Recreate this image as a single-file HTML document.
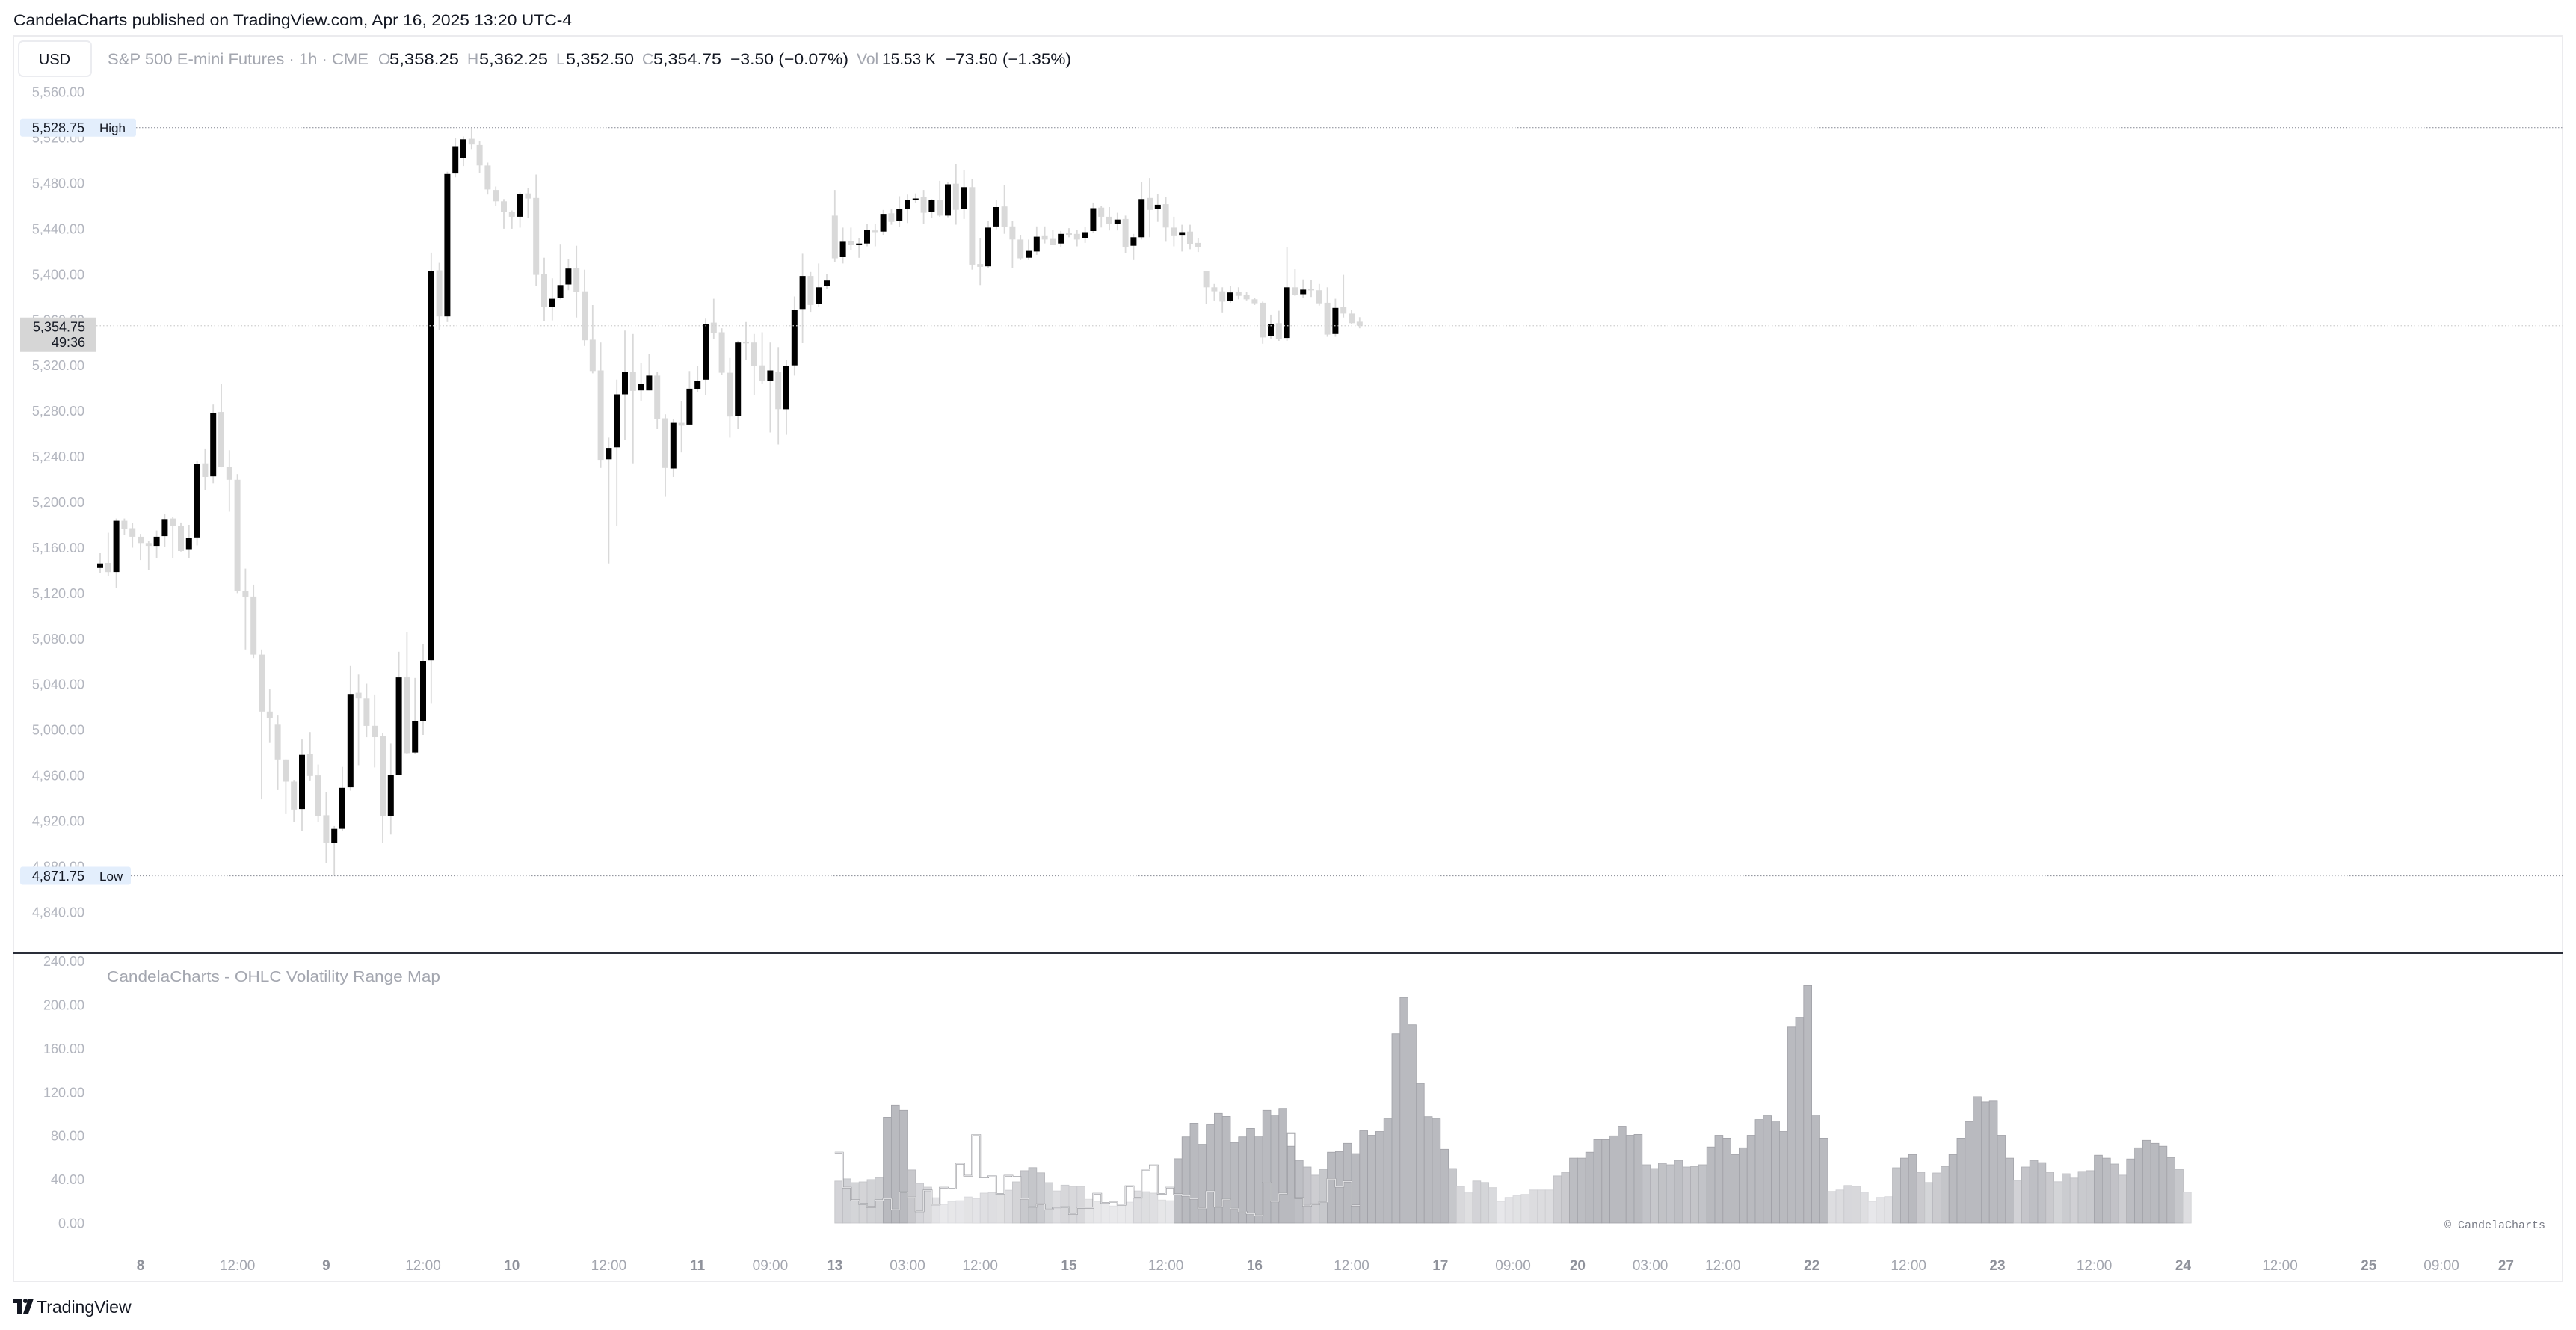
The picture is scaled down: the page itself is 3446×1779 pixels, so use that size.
<!DOCTYPE html>
<html><head><meta charset="utf-8"><title>S&P 500 E-mini Futures chart</title>
<style>
html,body{margin:0;padding:0;background:#fff;}
svg{display:block;font-family:"Liberation Sans",Arial,sans-serif;}
</style></head>
<body>
<svg id="chart" xmlns="http://www.w3.org/2000/svg" width="3446" height="1779" viewBox="0 0 3446 1779">
<rect x="0" y="0" width="3446" height="1779" fill="#ffffff"/>
<text x="18" y="34" font-size="21" fill="#131722" textLength="747" lengthAdjust="spacingAndGlyphs">CandelaCharts published on TradingView.com, Apr 16, 2025 13:20 UTC-4</text>
<rect x="18" y="48" width="3410" height="1666" fill="none" stroke="#ebebee" stroke-width="2"/>
<g>
<rect x="25" y="55" width="97" height="47" rx="6" fill="#fff" stroke="#ebecf0" stroke-width="2"/>
<text x="73" y="86" font-size="20" text-anchor="middle" fill="#131722">USD</text>
</g>
<g id="legend" font-size="21">
<text x="144" y="86" fill="#a3a6af" textLength="349" lengthAdjust="spacingAndGlyphs">S&amp;P 500 E-mini Futures · 1h · CME</text>
<text x="506" y="86" fill="#a3a6af">O</text>
<text x="521" y="86" fill="#131722" textLength="93" lengthAdjust="spacingAndGlyphs">5,358.25</text>
<text x="625" y="86" fill="#a3a6af">H</text>
<text x="641" y="86" fill="#131722" textLength="92" lengthAdjust="spacingAndGlyphs">5,362.25</text>
<text x="744" y="86" fill="#a3a6af">L</text>
<text x="757" y="86" fill="#131722" textLength="91" lengthAdjust="spacingAndGlyphs">5,352.50</text>
<text x="859" y="86" fill="#a3a6af">C</text>
<text x="874" y="86" fill="#131722" textLength="91" lengthAdjust="spacingAndGlyphs">5,354.75</text>
<text x="977" y="86" fill="#131722" textLength="158" lengthAdjust="spacingAndGlyphs">−3.50 (−0.07%)</text>
<text x="1146" y="86" fill="#a3a6af">Vol</text>
<text x="1180" y="86" fill="#131722" textLength="72" lengthAdjust="spacingAndGlyphs">15.53 K</text>
<text x="1265" y="86" fill="#131722" textLength="168" lengthAdjust="spacingAndGlyphs">−73.50 (−1.35%)</text>
</g>
<g id="priceAxis"></g>
<g id="candles"></g>
<g id="priceMarkers"></g>
<rect x="18" y="1273" width="3410" height="3" fill="#2a2e39"/>
<g id="volAxis"></g>
<text x="143" y="1313" font-size="20" fill="#a3a6af" textLength="446" lengthAdjust="spacingAndGlyphs">CandelaCharts - OHLC Volatility Range Map</text>
<g id="volBars"></g>
<g id="rangeLine"></g>
<text x="3405" y="1643" font-size="15" text-anchor="end" fill="#787b86" font-family="Liberation Mono, monospace">© CandelaCharts</text>
<g id="timeAxis"></g>
<g>
<rect x="18" y="1737" width="11" height="6" fill="#131722"/>
<rect x="23" y="1737" width="6" height="20" fill="#131722"/>
<circle cx="34" cy="1740" r="3" fill="#131722"/>
<polygon points="38,1737 45,1737 38,1757 31,1757" fill="#131722"/>
<text x="49" y="1756" font-size="23" fill="#131722">TradingView</text>
</g>
</svg>
<script>
const opens=[5142,5146.5,5138.5,5183.5,5177,5169.5,5164,5161.5,5170,5185.5,5179,5158,5169,5234,5222.5,5279,5230.5,5219.5,5122,5117,5066,5016,5004.5,4974,4954.5,4930.5,4979,4960,4925,4901,4913,4949.5,5032.5,5027.5,5003.5,4994.5,4924.5,4960.5,5046,4980,5008,5061,5403.5,5363,5488.5,5502,5519,5513.5,5495.5,5474,5464,5454.5,5450.5,5471,5467,5400.5,5371,5379,5391,5405.5,5385,5342.5,5315.5,5237.5,5248,5294.5,5314,5298,5298,5311,5273.5,5229.5,5269.5,5268,5299.5,5307.5,5357.5,5349,5313.5,5275.5,5340.5,5340,5320,5306.5,5314,5281.5,5320,5369.5,5398.5,5374,5389.5,5451.5,5415,5429,5425.5,5427,5438.5,5437.5,5453.5,5446.5,5457,5466,5467.5,5454.5,5465.5,5451.5,5479.5,5457,5476.5,5409,5407,5442,5459.5,5442,5430.5,5414.5,5420,5433.5,5431,5427,5436.5,5435.5,5431.5,5438,5458.5,5450.5,5444,5448.5,5425,5432.5,5467,5457.5,5461.5,5441,5434,5437.5,5427.5,5402.5,5388.5,5385,5376.5,5384.5,5382,5378,5375,5346,5357,5344,5388.5,5382.5,5387,5386,5375,5347.5,5371,5365.5,5358.25];
const highs=[5155,5173,5185.5,5185.5,5181.5,5172,5166,5175,5189.5,5187,5182,5180,5236.5,5247,5285.5,5304,5245.5,5224.5,5141.5,5127.5,5070.5,5035.5,5012.5,4974,4956,4991.5,4998,4969.5,4945.5,4915.5,4967.5,5056,5048.5,5040.5,5031,4997,4988,5068.5,5085.5,5045.5,5075,5419,5410,5490,5520,5521,5528.75,5517,5498,5477,5466,5456,5472,5476,5487.5,5414.5,5396.5,5426,5413.5,5425,5404,5373,5340,5256.5,5307.5,5350.5,5347.5,5322,5330,5314.5,5277,5273,5288.5,5315,5319.5,5361,5378.5,5352.5,5326.5,5341.5,5358,5347.5,5349,5340,5336,5325,5380.5,5418,5402,5409.5,5400.5,5474,5441,5441,5432,5444,5444.5,5456.5,5457,5468.5,5470,5471,5474,5466,5482,5481,5496.5,5491.5,5483.5,5431.5,5447,5465,5478,5447,5434.5,5430.5,5442,5442,5439,5438,5440.5,5439,5441.5,5463,5460,5459,5454,5451.5,5435.5,5481,5484.5,5470.5,5468,5450.5,5443.5,5443.5,5431.5,5402.5,5391.5,5388.5,5389.5,5388.5,5384.5,5379,5376,5364.5,5368,5424,5404.5,5395.5,5395,5391.5,5388.5,5378.5,5399.5,5368.5,5362.25];
const lows=[5137.5,5135,5124.5,5171,5160,5149,5140.5,5151,5160.5,5151,5156.5,5151,5162,5210.5,5216.5,5230.5,5191.5,5120,5070.5,5063,4939,4988.5,4947,4926,4919,4911,4955.5,4919,4883,4871.75,4911.5,4946.5,4969,4993.5,4967,4900.5,4908,4960.5,4978.5,4978.5,4995.5,5023.5,5351,5358,5485,5495,5510,5489,5470,5460,5440,5440,5441,5449.5,5389.5,5359,5359.5,5378,5386,5362,5337,5313,5230,5146,5179,5254.5,5234,5288.5,5298,5264,5204.5,5222,5243.5,5268,5296.5,5293.5,5343,5311.5,5256.5,5264,5325,5294,5303.5,5261,5250.5,5259,5311,5339.5,5367,5371.5,5387,5410.5,5409.5,5421,5414.5,5424.5,5424.5,5434.5,5443.5,5441.5,5445,5463,5444,5449.5,5450.5,5450,5443.5,5448.5,5404,5390.5,5405.5,5439.5,5435.5,5405.5,5412.5,5412.5,5417,5427,5425.5,5424,5432.5,5424.5,5427.5,5436.5,5441,5438.5,5438.5,5418.5,5412.5,5430.5,5432.5,5446,5428.5,5424.5,5420,5422,5419.5,5374,5377,5366.5,5375,5378,5377,5373,5339,5343.5,5341.5,5341.5,5381,5379,5380,5372.5,5345,5345,5362,5356.5,5352.5];
const closes=[5146,5138.5,5183.5,5176.5,5169.5,5164,5161.5,5169.5,5185,5179,5157,5168.5,5233.5,5222,5278,5231,5219.5,5122,5116.5,5066,5016,5010,4974,4954.5,4930,4978,4959.5,4924.5,4900.5,4913,4949,5031.5,5027.5,5003.5,4993.5,4924.5,4960.5,5046,4979.5,5007.5,5060.5,5402.5,5363,5488,5512.5,5518.5,5514,5495.5,5474.5,5464,5455,5450.5,5470.5,5466.5,5399.5,5371.5,5378.5,5390.5,5405,5384.5,5342,5315,5237,5247.5,5294.5,5314,5297.5,5303.5,5311,5273,5230,5269.5,5267,5299.5,5306.5,5356,5348.5,5313.5,5275,5340,5340,5319.5,5306,5315.5,5281.5,5319.5,5369,5398.5,5373,5388.5,5394.5,5414,5428.5,5425.5,5427,5439,5437,5453,5446,5457,5465.5,5466.5,5454,5465,5451.5,5479,5456.5,5476.5,5408.5,5406.5,5441,5459,5441.5,5430.5,5414,5420.5,5433,5430.5,5425.5,5435.5,5434.5,5430.5,5437,5458,5450.5,5444,5448,5423.5,5432.5,5466,5456.5,5461,5441,5433.5,5437,5426.5,5424,5388.5,5385,5376,5384,5381,5378,5374.5,5344.5,5356.5,5343,5388.5,5381.5,5386.5,5386.25,5374.5,5347,5370.5,5365.5,5357,5354.75];
const priceTicks=[5560,5520,5480,5440,5400,5360,5320,5280,5240,5200,5160,5120,5080,5040,5000,4960,4920,4880,4840];
const rangeValues=[38.4,40.5,37,37.7,39.8,41.8,97,108,103.2,48.7,36.3,32.9,23.2,17,19.8,20.5,23.9,22.5,27.4,28,26.7,30.1,37.7,48,50.8,46,37,29.4,34.7,33.6,33.6,21.8,19.8,17.7,15.6,16.3,19.1,29.4,28.7,27.4,21.1,20.5,59,79,91.5,72.2,90.1,100.5,97.7,73.6,79,86.7,79.8,103.2,99,105,70.4,57.5,51.4,43.9,49.3,64.9,65.6,73.1,63.6,84.6,80.5,83.9,95.5,173.5,206.8,181.7,128,97.5,95.5,67.6,50,33.7,27.6,38.5,37.1,32.4,19.5,23.5,24.9,26.2,30.3,30.3,30.3,43.2,46.6,59.5,59.5,64.9,76.5,76.5,79.9,88.7,80.5,81.2,53.4,50,54.8,53.4,57.5,51.4,52,53.4,69.7,80.5,77.8,62.9,69,80.5,94.8,98.2,93.4,83.9,179.6,188.5,217.6,98.9,77.8,29,30.3,34.4,33.7,28.3,19.5,23.5,24.2,50.7,59.5,62.9,46.6,37.1,45.9,52,62.9,77.8,92.8,115.8,111,111.8,80.5,59.5,39.1,51.4,57.5,55.4,46.6,37.8,45.2,41.2,47.3,48,62.2,59.5,54.1,43.9,58.8,69,75.8,73.1,70.4,60.2,49.3,28.3];
const currentRange=[64.6,32.4,20.9,17.5,14.7,20.9,22.1,12.4,28.3,23.4,10.8,29.9,17,32.4,31.5,54.3,43.4,80.7,41.8,42.8,26.7,43.4,42.5,22.3,14.9,17.2,12.4,14.3,14.5,8.3,14,14,26.9,18.4,19.3,16.8,33.8,23.2,49,52.9,26.7,32.4,26.4,25.1,22.3,13.6,29,14.9,21.4,13.1,10.3,8.7,6.9,37,19.8,26.9,82.4,22.9,15.8,17.2,19.2,40.3,33.3,38,16.1];
const volTicks=[240,200,160,120,80,40,0];
const timeLabels=["8","12:00","9","12:00","10","12:00","11","09:00","13","03:00","12:00","15","12:00","16","12:00","17","09:00","20","03:00","12:00","22","12:00","23","12:00","24","12:00","25","09:00","27"];
const timeIndex=[5,17,28,40,51,63,74,83,91,100,109,120,132,143,155,166,175,183,192,201,212,224,235,247,258,270,281,290,298];
const rangeStart=91;
const highMark=5528.75, lowMark=4871.75, lastPrice=5354.75;

const NS="http://www.w3.org/2000/svg";
function xS(i){return 134+i*10.8;}
function yP(p){return 123.1+(5560-p)*1.5233;}
function yV(v){return 1636-v*1.46;}
function mk(tag,attrs,parent){const e=document.createElementNS(NS,tag);for(const k in attrs)e.setAttribute(k,attrs[k]);parent.appendChild(e);return e;}
function fmt(p){return p.toLocaleString("en-US",{minimumFractionDigits:2,maximumFractionDigits:2});}

const pa=document.getElementById("priceAxis");
priceTicks.forEach(t=>{
  const e=mk("text",{x:113,y:(yP(t)+6.5).toFixed(1),"font-size":18,"text-anchor":"end",fill:"#b2b5be"},pa);
  
  
  e.textContent=fmt(t);
});

const cg=document.getElementById("candles");
for(let i=0;i<opens.length;i++){
  const x=xS(i),o=opens[i],c=closes[i],up=c>=o;
  const w=mk("rect",{x:(x-0.9).toFixed(1),y:yP(highs[i]).toFixed(1),width:1.8,height:Math.max(1,yP(lows[i])-yP(highs[i])).toFixed(1),fill:"#d9d9d9"},cg);
  
  
  const top=yP(Math.max(o,c)),bot=yP(Math.min(o,c));
  const b=mk("rect",{x:(x-4).toFixed(1),y:top.toFixed(1),width:8,height:Math.max(1.8,bot-top).toFixed(1),fill:up?"#000000":"#d9d9d9"},cg);
  
  
}

const pm=document.getElementById("priceMarkers");
function marker(p,label,name,w){
  const y=yP(p);
  const l=mk("line",{x1:27+w,y1:y,x2:3428,y2:y,stroke:"#9598a1","stroke-width":1.2,"stroke-dasharray":"1.5 2.5"},pm);
  
  
  const r=mk("rect",{x:27,y:y-12,width:w,height:24,rx:3,fill:"#e3eefc"},pm);
  
  
  const t=mk("text",{x:113,y:y+6.5,"font-size":18,"text-anchor":"end",fill:"#131722"},pm);
  
  
  t.textContent=fmt(p);
  const t2=mk("text",{x:133,y:y+6.5,"font-size":17,fill:"#131722"},pm);
  
  
  t2.textContent=label;
}
marker(highMark,"High","high-marker",155);
marker(lowMark,"Low","low-marker",148);
{
  const y=yP(lastPrice);
  const l=mk("line",{x1:129,y1:y,x2:3428,y2:y,stroke:"#cfcfcf","stroke-width":1.2,"stroke-dasharray":"1.5 3"},pm);
  
  
  const r=mk("rect",{x:27,y:y-11,width:102,height:46,fill:"#d6d6d6"},pm);
  
  
  const t=mk("text",{x:114,y:y+7.5,"font-size":18,"text-anchor":"end",fill:"#131722"},pm);
  
  
  t.textContent=fmt(lastPrice);
  const t2=mk("text",{x:114,y:y+28,"font-size":18,"text-anchor":"end",fill:"#131722"},pm);
  
  
  t2.textContent="49:36";
}

const va=document.getElementById("volAxis");
volTicks.forEach(t=>{
  const e=mk("text",{x:113,y:(yV(t)+6.5).toFixed(1),"font-size":18,"text-anchor":"end",fill:"#b2b5be"},va);
  
  
  e.textContent=t.toFixed(2);
});

function shade(v){
  const t=Math.max(0,Math.min(1,(v-18)/44));
  const a=[233,233,235],b=[185,186,191];
  return "rgb("+a.map((c,k)=>Math.round(c+(b[k]-c)*t)).join(",")+")";
}
function edge(v){
  const t=Math.max(0,Math.min(1,(v-18)/44));
  const a=[222,222,225],b=[160,161,167];
  return "rgb("+a.map((c,k)=>Math.round(c+(b[k]-c)*t)).join(",")+")";
}
const vb=document.getElementById("volBars");
rangeValues.forEach((v,k)=>{
  const x=xS(rangeStart+k);
  const r=mk("rect",{x:x.toFixed(1),y:yV(v).toFixed(1),width:10.8,height:(v*1.46).toFixed(1),fill:shade(v),stroke:edge(v),"stroke-width":0.8},vb);
  
  
});

const rl=document.getElementById("rangeLine");
let d="";
currentRange.forEach((v,k)=>{
  const x0=xS(rangeStart+k),x1=x0+10.8,y=yV(v).toFixed(1);
  d+=(k===0?"M":"L")+x0.toFixed(1)+" "+y+" L"+x1.toFixed(1)+" "+y+" ";
});
const p1=mk("path",{d:d,fill:"none",stroke:"#96979c","stroke-width":2},rl);


const p2=mk("path",{d:d,fill:"none",stroke:"#f2f2f3","stroke-width":0.8},rl);



const ta=document.getElementById("timeAxis");
timeLabels.forEach((lab,k)=>{
  const day=lab.indexOf(":")<0;
  const e=mk("text",{x:xS(timeIndex[k]).toFixed(1),y:1699,"font-size":19,"text-anchor":"middle",fill:day?"#8f929b":"#a3a6af","font-weight":day?"bold":"normal"},ta);
  
  
  e.textContent=lab;
});
</script>
</body></html>
